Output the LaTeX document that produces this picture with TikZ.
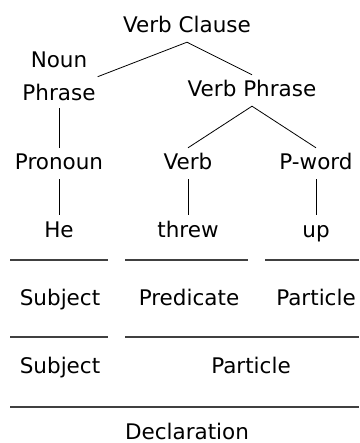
\documentclass[tikz,border=0pt]{standalone}
\usepackage{fontspec}
\setmainfont{DejaVu Sans}
\begin{document}
\begin{tikzpicture}[x=1pt,y=-1pt,
  word/.style={font=\fontsize{21.5}{33}\selectfont,inner xsep=2pt,inner ysep=7pt,text height=15pt,text depth=2pt,anchor=base},
  twoline/.style={font=\fontsize{21.5}{33}\selectfont,inner xsep=2pt,inner ysep=7pt,align=center,anchor=north},
  branch/.style={line width=0.8pt},
  rule/.style={line width=1.6pt,draw=black!75}]
\useasboundingbox (0,0) rectangle (359,443);

% Tree
\node[word] (vc) at (187,33) {Verb Clause};
\node[twoline] (np) at (59,45) {Noun\\Phrase};
\node[word] (vp) at (252,97) {Verb Phrase};
\node[word] (pron) at (59,170) {Pronoun};
\node[word] (verb) at (188,170) {Verb};
\node[word] (pword) at (316,170) {P-word};
\node[word] (he) at (59,237) {He};
\node[word] (threw) at (188,237) {threw};
\node[word] (up) at (316,237) {up};

\draw[branch] (np.east) -- (vc.south) -- (vp.north);
\draw[branch] (verb.north) -- (vp.south) -- (pword.north);
\draw[branch] (np.south) -- (pron.north);
\draw[branch] (pron.south) -- (he.north);
\draw[branch] (verb.south) -- (threw.north);
\draw[branch] (pword.south) -- (up.north);

% Rows
\draw[rule] (10,260) -- (108,260);
\draw[rule] (125,260) -- (248,260);
\draw[rule] (265,260) -- (359,260);
\node[word] (subj1) at (60,305) {Subject};
\node[word] (pred) at (189,305) {Predicate};
\node[word] (part1) at (316,305) {Particle};

\draw[rule] (10,337) -- (108,337);
\draw[rule] (125,337) -- (359,337);
\node[word] (subj2) at (60,373) {Subject};
\node[word] (part2) at (251,373) {Particle};

\draw[rule] (10,407) -- (359,407);
\node[word,inner ysep=0pt,text depth=0pt] (decl) at (187,439) {Declaration};
\end{tikzpicture}
\end{document}
